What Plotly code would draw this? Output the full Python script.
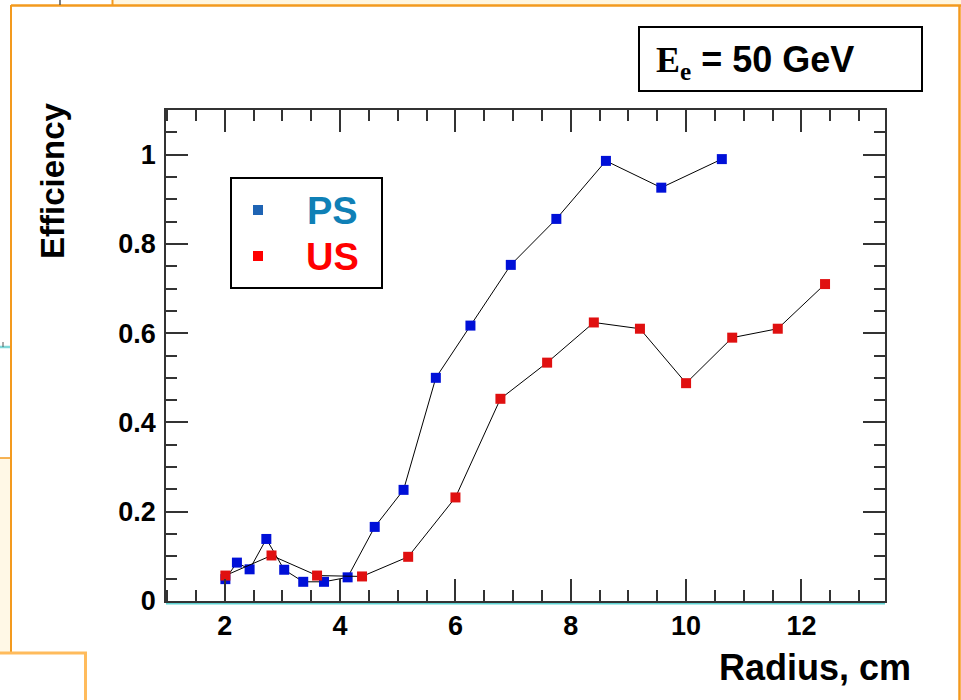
import plotly.graph_objects as go

# ---- data ----
ps_radius = [2.01, 2.21, 2.43, 2.72, 3.03, 3.36, 3.72, 4.13, 4.60, 5.10, 5.66, 6.26, 6.96, 7.75, 8.61, 9.57, 10.62]
ps_eff = [0.049, 0.086, 0.071, 0.139, 0.070, 0.043, 0.043, 0.053, 0.166, 0.249, 0.500, 0.617, 0.753, 0.856, 0.986, 0.926, 0.990]
us_radius = [2.01, 2.81, 3.60, 4.38, 5.18, 6.00, 6.78, 7.59, 8.40, 9.20, 10.00, 10.80, 11.59, 12.41]
us_eff = [0.057, 0.102, 0.057, 0.055, 0.099, 0.232, 0.453, 0.534, 0.624, 0.610, 0.488, 0.590, 0.610, 0.710]
x_ticks = [2, 4, 6, 8, 10, 12]
y_ticks = [0, 0.2, 0.4, 0.6, 0.8, 1]
y_ticktext = ["0", "0.2", "0.4", "0.6", "0.8", "1"]

W, H = 961, 700
L, R, T, B = 166, 76, 110, 99
PW, PH = W - L - R, H - T - B


def px(x):
    return (x - L) / PW


def py(y):
    return (H - B - y) / PH


FONT = "Liberation Sans, Arial, sans-serif"

fig = go.Figure()
fig.add_trace(go.Scatter(x=ps_radius, y=ps_eff, mode="lines+markers", name="PS",
                         line=dict(color="black", width=1),
                         marker=dict(symbol="square", size=10, color="#0010d8"),
                         showlegend=False, cliponaxis=False))
fig.add_trace(go.Scatter(x=us_radius, y=us_eff, mode="lines+markers", name="US",
                         line=dict(color="black", width=1),
                         marker=dict(symbol="square", size=10, color="#e01010"),
                         showlegend=False, cliponaxis=False))

axis_common = dict(showgrid=False, zeroline=False, showline=True, linecolor="#333333",
                   linewidth=1.5, mirror="allticks", ticks="inside", tickcolor="#333333",
                   tickwidth=1.5, tickfont=dict(family=FONT, size=27, color="black", weight="bold"))

fig.update_layout(
    width=W, height=H,
    margin=dict(l=L, r=R, t=T, b=B, pad=0),
    paper_bgcolor="white", plot_bgcolor="white",
    xaxis=dict(range=[0.98, 13.45], tickvals=x_ticks, ticktext=[str(v) for v in x_ticks],
               ticklen=22, minor=dict(dtick=0.5, tick0=0, ticks="inside", ticklen=11,
                                      tickcolor="#333333", tickwidth=1.5),
               **axis_common),
    yaxis=dict(range=[0, 1.1], tickvals=y_ticks, ticktext=y_ticktext,
               ticklen=22, ticklabelstandoff=3,
               minor=dict(dtick=0.05, tick0=0, ticks="inside", ticklen=11,
                          tickcolor="#333333", tickwidth=1.5),
               **axis_common),
)

shapes = []
# cyan line along x axis
shapes.append(dict(type="line", xref="paper", yref="paper", x0=0, x1=1, y0=py(603), y1=py(603),
                   line=dict(color="#5fd3d3", width=3), layer="below"))

# orange outer frame
OR = "#f39a1e"
shapes.append(dict(type="rect", xref="paper", yref="paper", x0=px(112), x1=px(961), y0=py(0), y1=py(5),
                   fillcolor="#fff6e0", line=dict(width=0)))
shapes.append(dict(type="line", xref="paper", yref="paper", x0=px(11), x1=px(961), y0=py(5.5), y1=py(5.5),
                   line=dict(color=OR, width=2.5)))
shapes.append(dict(type="line", xref="paper", yref="paper", x0=px(11), x1=px(11), y0=py(5), y1=py(652),
                   line=dict(color=OR, width=2)))
shapes.append(dict(type="line", xref="paper", yref="paper", x0=px(959.5), x1=px(959.5), y0=py(5), y1=py(700),
                   line=dict(color=OR, width=2.5)))
shapes.append(dict(type="line", xref="paper", yref="paper", x0=px(112.5), x1=px(112.5), y0=py(0), y1=py(5),
                   line=dict(color=OR, width=2)))
shapes.append(dict(type="line", xref="paper", yref="paper", x0=px(60), x1=px(60), y0=py(0), y1=py(5),
                   line=dict(color="#555555", width=1.5)))
# left strip pieces
shapes.append(dict(type="line", xref="paper", yref="paper", x0=px(0), x1=px(10), y0=py(347), y1=py(347),
                   line=dict(color="#7fd8d8", width=2.5)))
shapes.append(dict(type="line", xref="paper", yref="paper", x0=px(3), x1=px(3), y0=py(342), y1=py(347),
                   line=dict(color="#555555", width=1)))
shapes.append(dict(type="rect", xref="paper", yref="paper", x0=px(0), x1=px(10), y0=py(458), y1=py(652),
                   fillcolor="#fff8e6", line=dict(width=0)))
shapes.append(dict(type="line", xref="paper", yref="paper", x0=px(0), x1=px(11), y0=py(458), y1=py(458),
                   line=dict(color=OR, width=1.5)))
shapes.append(dict(type="line", xref="paper", yref="paper", x0=px(0), x1=px(87), y0=py(653), y1=py(653),
                   line=dict(color="#ffbb5c", width=3)))
shapes.append(dict(type="line", xref="paper", yref="paper", x0=px(85.5), x1=px(85.5), y0=py(652), y1=py(700),
                   line=dict(color="#ffbb5c", width=3)))

# E_e box
shapes.append(dict(type="rect", xref="paper", yref="paper", x0=px(639), x1=px(922), y0=py(27), y1=py(91),
                   fillcolor="white", line=dict(color="black", width=2)))
# legend box
shapes.append(dict(type="rect", xref="paper", yref="paper", x0=px(231), x1=px(382), y0=py(178), y1=py(288),
                   fillcolor="white", line=dict(color="black", width=2)))
# legend markers
shapes.append(dict(type="rect", xref="paper", yref="paper", x0=px(253), x1=px(263), y0=py(205), y1=py(215),
                   fillcolor="#1e64b4", line=dict(width=0)))
shapes.append(dict(type="rect", xref="paper", yref="paper", x0=px(253), x1=px(263), y0=py(251), y1=py(261),
                   fillcolor="#ff0000", line=dict(width=0)))

fig.update_layout(shapes=shapes)

ann = []
ann.append(dict(xref="paper", yref="paper", x=px(332), y=py(211), text="<b>PS</b>", showarrow=False,
                font=dict(family=FONT, size=38, color="#0f80b6"), xanchor="center", yanchor="middle"))
ann.append(dict(xref="paper", yref="paper", x=px(332), y=py(257), text="<b>US</b>", showarrow=False,
                font=dict(family=FONT, size=38, color="#ff0000"), xanchor="center", yanchor="middle"))
ann.append(dict(xref="paper", yref="paper", x=px(654), y=py(62),
                text="<span style='font-family:Liberation Serif, DejaVu Serif, serif'><b>E<sub>e</sub></b></span><b> = 50 GeV</b>",
                showarrow=False, font=dict(family=FONT, size=36, color="black"),
                xanchor="left", yanchor="middle"))
ann.append(dict(xref="paper", yref="paper", x=px(52), y=py(181), text="<b>Efficiency</b>", showarrow=False,
                textangle=-90, font=dict(family=FONT, size=33, color="black"),
                xanchor="center", yanchor="middle"))
ann.append(dict(xref="paper", yref="paper", x=px(913), y=py(667), text="<b>Radius, cm</b>", showarrow=False,
                font=dict(family=FONT, size=36, color="black"), xanchor="right", yanchor="middle"))
fig.update_layout(annotations=ann)

fig.write_html("out.html")
